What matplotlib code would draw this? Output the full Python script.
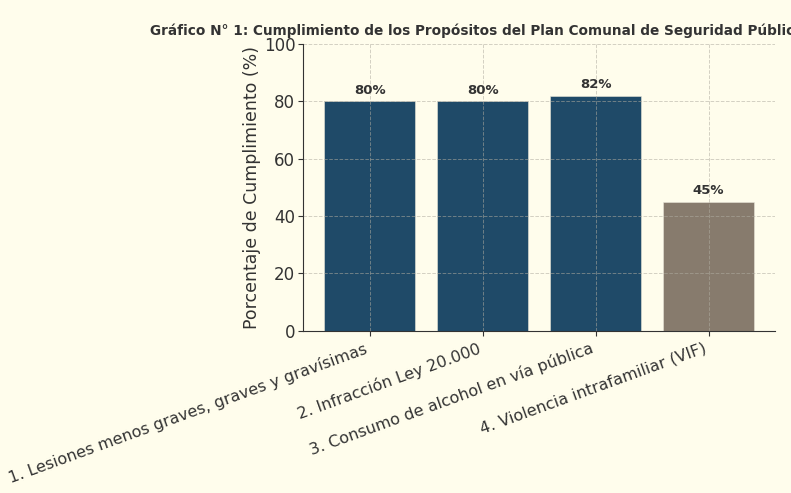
import matplotlib.pyplot as plt

categories = [
    "1. Lesiones menos graves, graves y gravísimas",
    "2. Infracción Ley 20.000",
    "3. Consumo de alcohol en vía pública",
    "4. Violencia intrafamiliar (VIF)",
]
cumplimiento = [80, 80, 82, 45]
barColors = ["#1f4a68", "#1f4a68", "#1f4a68", "#877b6d"]
titulo = "Gráfico N° 1: Cumplimiento de los Propósitos del Plan Comunal de Seguridad Pública"

bg = "#fffdec"
fig = plt.figure(figsize=(7.91, 4.93), dpi=100, facecolor=bg)
ax = fig.add_axes([0.383, 0.329, 0.597, 0.582], facecolor=bg)

bars = ax.bar(range(len(categories)), cumplimiento, color=barColors, width=0.8,
              edgecolor="#e8e6d8", linewidth=0.4, zorder=2)
for bar, value in zip(bars, cumplimiento):
    ax.text(bar.get_x() + bar.get_width() / 2, value + 1.5, f"{value}%",
            ha="center", va="bottom", fontsize=9.5, fontweight="bold", color="#333333")

ax.set_ylim(0, 100)
ax.set_xticks(range(len(categories)))
ax.set_xticklabels(categories, rotation=20, ha="right", fontsize=11.5, color="#333333")
ax.tick_params(axis="y", labelsize=12, colors="#333333", pad=2)
ax.tick_params(axis="x", colors="#333333")
ax.set_ylabel("Porcentaje de Cumplimiento (%)", fontsize=12.5, color="#333333", labelpad=2)

# title sits left of centre and runs past the right edge, as in the source image
fig.text(150 / 791, 1 - 31 / 493, titulo, ha="left", va="center",
         fontsize=9.8, fontweight="bold", color="#333333")

ax.grid(True, linestyle="--", color="#b0aca0", linewidth=0.7, alpha=0.55, zorder=3)
ax.set_axisbelow(False)
for side in ["top", "right"]:
    ax.spines[side].set_visible(False)
for side in ["left", "bottom"]:
    ax.spines[side].set_color("#333333")
    ax.spines[side].set_zorder(4)

fig.savefig("out.png", dpi=100, facecolor=bg)
